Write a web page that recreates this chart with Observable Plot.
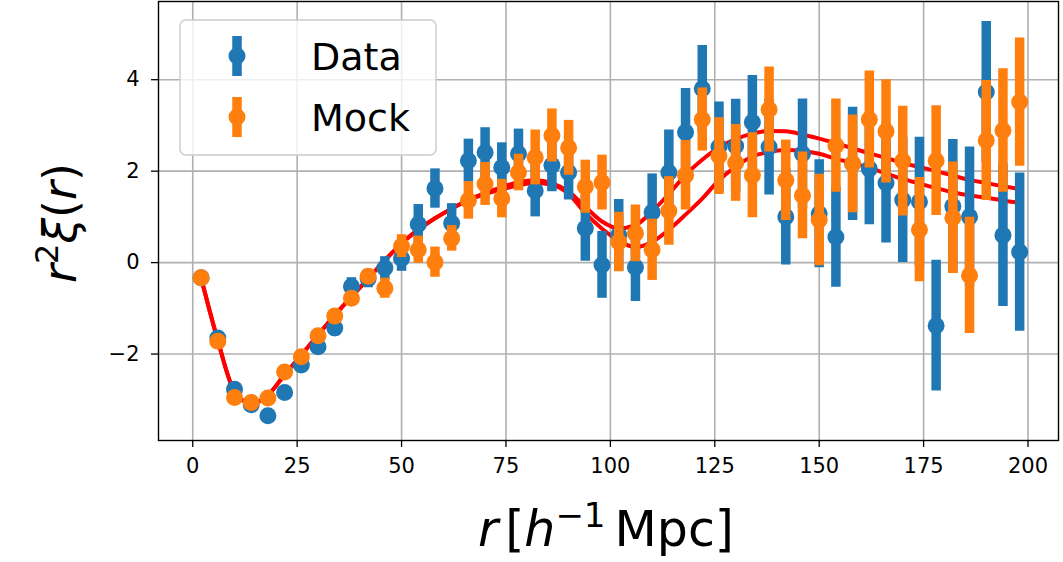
<!DOCTYPE html>
<html><head><meta charset="utf-8">
<script src="https://cdn.jsdelivr.net/npm/d3@7"></script>
<script src="https://cdn.jsdelivr.net/npm/@observablehq/plot@0.6"></script>
<style>body{margin:0;background:#fff;} svg{display:block}</style>
</head><body><div id="chart"></div>
<script>
const rBins = [2,6,10,14,18,22,26,30,34,38,42,46,50,54,58,62,66,70,74,78,82,86,90,94,98,102,106,110,114,118,122,126,130,134,138,142,146,150,154,158,162,166,170,174,178,182,186,190,194,198];
const dataY = [-0.33,-1.65,-2.77,-3.11,-3.35,-2.84,-2.24,-1.84,-1.43,-0.52,-0.35,-0.12,0.09,0.84,1.62,0.86,2.23,2.41,2.08,2.38,1.57,2.13,1.97,0.75,-0.05,0.60,-0.10,1.10,1.97,2.85,3.80,2.53,2.55,3.07,2.53,1.00,2.38,1.07,0.56,2.16,2.05,1.74,1.37,1.33,-1.38,1.23,1.00,3.73,0.60,0.23];
const dataErr = [0.05,0.06,0.08,0.1,0.1,0.12,0.13,0.15,0.17,0.19,0.2,0.25,0.28,0.43,0.43,0.43,0.47,0.54,0.54,0.54,0.57,0.58,0.6,0.72,0.73,0.78,0.75,0.84,0.93,0.96,0.95,0.98,1.02,1.02,1.05,1.05,1.2,1.18,1.1,1.24,1.22,1.31,1.37,1.41,1.43,1.46,1.53,1.54,1.56,1.73];
const mockY = [-0.33,-1.72,-2.95,-3.06,-2.96,-2.39,-2.06,-1.60,-1.17,-0.78,-0.30,-0.56,0.36,0.28,0.01,0.53,1.36,1.72,1.40,1.97,2.30,2.78,2.51,1.66,1.75,0.45,0.64,0.28,1.13,1.91,3.13,2.33,2.18,1.91,3.35,1.80,1.47,0.93,2.56,2.16,3.13,2.87,2.22,0.72,2.23,0.98,-0.28,2.67,2.89,3.51];
const mockErr = [0.05,0.05,0.06,0.07,0.08,0.09,0.1,0.11,0.12,0.13,0.15,0.22,0.25,0.3,0.33,0.28,0.41,0.47,0.42,0.4,0.6,0.58,0.6,0.58,0.6,0.65,0.62,0.67,0.75,0.76,0.69,0.84,0.84,0.93,0.93,0.88,0.95,1.0,1.02,1.07,1.06,1.13,1.2,1.14,1.2,1.22,1.27,1.31,1.35,1.4];
const modelA = [-0.33,-1.70,-2.82,-3.08,-2.90,-2.45,-2.02,-1.58,-1.15,-0.75,-0.35,0.05,0.42,0.72,0.97,1.18,1.37,1.52,1.65,1.76,1.80,1.74,1.55,1.22,0.90,0.75,0.82,1.12,1.50,1.92,2.25,2.52,2.70,2.82,2.88,2.87,2.80,2.71,2.61,2.50,2.39,2.29,2.18,2.09,2.00,1.90,1.81,1.74,1.67,1.61];
const modelB = [-0.33,-1.70,-2.82,-3.08,-2.90,-2.45,-2.02,-1.58,-1.15,-0.75,-0.35,0.05,0.42,0.72,0.97,1.18,1.37,1.50,1.60,1.69,1.74,1.70,1.50,1.08,0.74,0.48,0.34,0.45,0.72,1.05,1.40,1.80,2.10,2.32,2.42,2.46,2.44,2.38,2.27,2.18,2.07,1.95,1.83,1.73,1.63,1.54,1.47,1.42,1.36,1.31];
const xTicks = [0,25,50,75,100,125,150,175,200];
const yTicks = [-2,0,2,4];
const seriesNames = ["Data","Mock"];
const seriesColors = ["#1f77b4","#ff7f0e"];

const rows = (ys, es, name) => rBins.map((r,i) => ({r, v: ys[i], lo: ys[i]-es[i], hi: ys[i]+es[i], name}));
const dataRows = rows(dataY, dataErr, "Data");
const mockRows = rows(mockY, mockErr, "Mock");
const modelRows = [
  ...rBins.map((r,i)=>({r, v: modelA[i], m:"A"})),
  ...rBins.map((r,i)=>({r, v: modelB[i], m:"B"}))
];
const fmt = d => d < 0 ? "\u2212" + Math.abs(d) : String(d);

const chart = Plot.plot({
  width: 1063, height: 562,
  marginLeft: 158, marginRight: 5, marginTop: 1, marginBottom: 122,
  x: {domain: [-8.2, 207.3]},
  y: {domain: [-3.89, 5.71]},
  style: {fontFamily: "DejaVu Sans", background: "white", color: "black", overflow: "visible"},
  marks: [
    Plot.gridX(xTicks, {stroke: "#b0b0b0", strokeOpacity: 1, strokeWidth: 1.6}),
    Plot.gridY(yTicks, {stroke: "#b0b0b0", strokeOpacity: 1, strokeWidth: 1.6}),
    Plot.line(modelRows, {x: "r", y: "v", z: "m", stroke: "#ff0000", strokeWidth: 4, curve: "monotone-x"}),
    Plot.ruleX(dataRows, {x: "r", y1: "lo", y2: "hi", stroke: seriesColors[0], strokeWidth: 9.5}),
    Plot.dot(dataRows, {x: "r", y: "v", r: 8.5, fill: seriesColors[0], stroke: "none"}),
    Plot.ruleX(mockRows, {x: "r", y1: "lo", y2: "hi", stroke: seriesColors[1], strokeWidth: 9.5}),
    Plot.dot(mockRows, {x: "r", y: "v", r: 8.5, fill: seriesColors[1], stroke: "none"}),
    Plot.frame({stroke: "black", strokeWidth: 1.4}),
    Plot.axisX(xTicks, {tickSize: 7, tickPadding: 11, fontSize: 21, strokeWidth: 1.3, label: null, tickFormat: fmt}),
    Plot.axisY(yTicks, {tickSize: 7, tickPadding: 12, fontSize: 21, strokeWidth: 1.3, label: null, tickFormat: fmt})
  ]
});
document.getElementById("chart").appendChild(chart);

const svg = d3.select(chart);
// Legend
const lg = svg.append("g");
lg.append("rect").attr("x",180).attr("y",20).attr("width",256).attr("height",135).attr("rx",6)
  .attr("fill","white").attr("fill-opacity",0.8).attr("stroke","#cccccc").attr("stroke-width",1.4);
seriesNames.forEach((name,i) => {
  const cy = 56 + i*61;
  lg.append("line").attr("x1",237).attr("x2",237).attr("y1",cy-20).attr("y2",cy+20)
    .attr("stroke",seriesColors[i]).attr("stroke-width",9.5);
  lg.append("circle").attr("cx",237).attr("cy",cy).attr("r",8.5).attr("fill",seriesColors[i]);
  lg.append("text").attr("x",311).attr("y",cy+14).attr("text-anchor","start").attr("font-size",38)
    .attr("font-family","DejaVu Sans").attr("fill","black").text(name);
});

// Axis labels
const xl = svg.append("text").attr("x",606).attr("y",546).attr("text-anchor","middle")
  .attr("font-family","DejaVu Sans").attr("font-size",49).attr("fill","black");
xl.append("tspan").attr("font-style","italic").text("r");
xl.append("tspan").attr("dx",7).text("[");
xl.append("tspan").attr("font-style","italic").text("h");
xl.append("tspan").attr("font-size",34).attr("dy",-19).text("\u22121");
xl.append("tspan").attr("dy",19).attr("dx",9).text("Mpc");
xl.append("tspan").text("]");

const yl = svg.append("text").attr("transform","translate(60,223) rotate(-90)").attr("text-anchor","middle")
  .attr("font-family","DejaVu Sans").attr("font-size",46).attr("fill","black").attr("dy","0.35em");
yl.append("tspan").attr("font-style","italic").text("r");
yl.append("tspan").attr("font-size",32).attr("dy",-18).text("2");
yl.append("tspan").attr("font-style","italic").attr("dy",18).text("\u03be");
yl.append("tspan").text("(");
yl.append("tspan").attr("font-style","italic").text("r");
yl.append("tspan").text(")");
</script></body></html>
